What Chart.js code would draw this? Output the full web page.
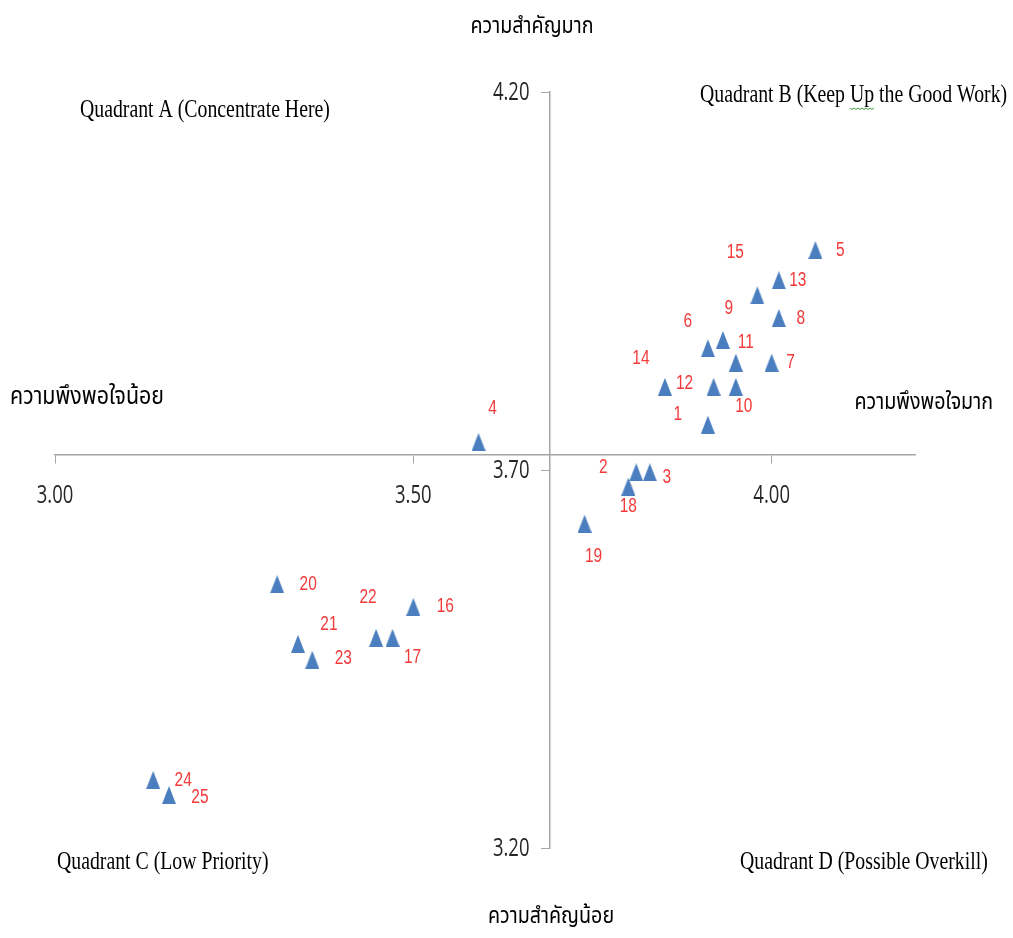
<!DOCTYPE html>
<html lang="th">
  <head>
    <meta charset="UTF-8" />
    <title>Importance-Performance Analysis</title>
    <script src="https://cdn.jsdelivr.net/npm/chart.js"></script>
    <style>
      body { margin: 0; background: #fff; }
    </style>
  </head>
  <body>
    <canvas id="ipaChart" width="1013" height="938"></canvas>
    <script>
      // item numbers, satisfaction (x) and importance (y)
      const pointIds = ["1", "2", "3", "4", "5", "6", "7", "8", "9", "10", "11", "12", "13",
        "14", "15", "16", "17", "18", "19", "20", "21", "22", "23", "24", "25"];
      const satisfaction = [3.911, 3.811, 3.830, 3.591, 4.061, 3.911, 4.000, 4.010, 3.932, 3.950,
        3.950, 3.919, 4.010, 3.851, 3.980, 3.500, 3.471, 3.800, 3.739, 3.310, 3.339, 3.448, 3.359,
        3.137, 3.159];
      const importance = [3.760, 3.697, 3.697, 3.737, 3.991, 3.861, 3.842, 3.901, 3.872, 3.810,
        3.842, 3.810, 3.951, 3.810, 3.931, 3.519, 3.478, 3.678, 3.629, 3.549, 3.470, 3.478, 3.449,
        3.290, 3.270];

      const xTicks = [3.0, 3.5, 4.0];
      const yTicks = [3.2, 3.7, 4.2];
      const crossX = 3.69;
      const crossY = 3.72;

      // where each number label sits relative to its marker (px)
      const labelOffsets = [[-30, -10], [-33, -5], [17, 5], [14, -34], [25, 0], [-20, -27],
        [19, 0], [22, 0], [6, -32], [8, 19], [10, -20], [-29, -4], [19, 0], [-24, -29],
        [-22, -43], [32, -1], [20, 19], [0, 20], [9, 33], [31, 0], [31, -20], [-8, -41],
        [31, -2], [30, 0], [31, 2]];

      const thaiFont = '"Noto Sans Thai", Loma, Garuda, "DejaVu Sans", sans-serif';
      const serifFont = '"Liberation Serif", "Times New Roman", serif';
      const numFont = '"Open Sans", Calibri, sans-serif';

      function makeTriangle() {
        const c = document.createElement("canvas");
        c.width = 14;
        c.height = 18;
        const g = c.getContext("2d");
        g.fillStyle = "#4a7ebf";
        g.beginPath();
        g.moveTo(7, 0);
        g.lineTo(14, 18);
        g.lineTo(0, 18);
        g.closePath();
        g.fill();
        return c;
      }

      // the source picture is stretched vertically, so text is drawn taller than wide
      function tallText(ctx, text, x, y, align, sy) {
        ctx.save();
        ctx.translate(x, y);
        ctx.scale(1, sy);
        ctx.textAlign = align;
        ctx.textBaseline = "middle";
        ctx.fillText(text, 0, 0);
        ctx.restore();
      }

      const textPlugin = {
        id: "textPlugin",
        afterDatasetsDraw(chart) {
          const ctx = chart.ctx;
          const meta = chart.getDatasetMeta(0);
          const xs = chart.scales.x;
          const ys = chart.scales.y;
          ctx.save();

          // tick labels
          ctx.font = "18.5px " + numFont;
          ctx.fillStyle = "#262626";
          const xBase = ys.getPixelForValue(crossY);
          xTicks.forEach((v) => tallText(ctx, v.toFixed(2), xs.getPixelForValue(v), xBase + 41, "center", 1.35));
          const yBase = xs.getPixelForValue(crossX);
          yTicks.forEach((v) => tallText(ctx, v.toFixed(2), yBase - 20, ys.getPixelForValue(v) + 1, "right", 1.35));

          // point numbers
          ctx.font = '15.5px "Liberation Sans", Arial, sans-serif';
          ctx.fillStyle = "#f23a3a";
          meta.data.forEach((pt, i) => {
            const [dx, dy] = labelOffsets[i];
            tallText(ctx, pointIds[i], pt.x + dx, pt.y + dy, "center", 1.35);
          });

          // quadrant names
          ctx.fillStyle = "#000";
          ctx.font = "19.8px " + serifFont;
          tallText(ctx, "Quadrant A (Concentrate Here)", 80, 110, "left", 1.3);
          tallText(ctx, "Quadrant B (Keep Up the Good Work)", 700, 95, "left", 1.3);
          tallText(ctx, "Quadrant C (Low Priority)", 57, 862, "left", 1.3);
          tallText(ctx, "Quadrant D (Possible Overkill)", 740, 862, "left", 1.3);

          // spell-check squiggle under "Up"
          const upStart = 700 + ctx.measureText("Quadrant B (Keep ").width;
          const upEnd = upStart + ctx.measureText("Up").width;
          ctx.strokeStyle = "#3c9a3c";
          ctx.lineWidth = 1;
          ctx.beginPath();
          for (let x = upStart, k = 0; x <= upEnd; x += 2, k++) {
            const y = 108 + (k % 2 ? 1.5 : 0);
            if (k === 0) ctx.moveTo(x, y);
            else ctx.lineTo(x, y);
          }
          ctx.stroke();

          // axis captions
          ctx.font = "19.7px " + thaiFont;
          tallText(ctx, "ความสำคัญมาก", 532, 28, "center", 1.2);
          tallText(ctx, "ความสำคัญน้อย", 551, 918, "center", 1.2);
          tallText(ctx, "ความพึงพอใจมาก", 993, 404, "right", 1.2);
          ctx.font = "21.4px " + thaiFont;
          tallText(ctx, "ความพึงพอใจน้อย", 10, 399, "left", 1.2);
          ctx.restore();
        },
      };

      const axisColor = "#a6a6a6";

      new Chart(document.getElementById("ipaChart").getContext("2d"), {
        type: "scatter",
        data: {
          datasets: [
            {
              label: "items",
              data: satisfaction.map((x, i) => ({ x: x, y: importance[i] })),
              pointStyle: makeTriangle(),
              pointRadius: 8,
              pointHoverRadius: 8,
            },
          ],
        },
        options: {
          responsive: false,
          animation: false,
          layout: { padding: { left: 55, right: 98, top: 92, bottom: 90 } },
          plugins: { legend: { display: false }, tooltip: { enabled: false } },
          scales: {
            x: {
              type: "linear",
              min: 3.0,
              max: 4.2,
              position: { y: crossY },
              afterBuildTicks: (scale) => {
                scale.ticks = xTicks.map((v) => ({ value: v }));
              },
              ticks: { display: false },
              grid: { drawOnChartArea: false, drawTicks: true, tickLength: 8, color: axisColor },
              border: { color: axisColor, width: 1.5 },
            },
            y: {
              type: "linear",
              min: 3.2,
              max: 4.2,
              position: { x: crossX },
              afterBuildTicks: (scale) => {
                scale.ticks = yTicks.map((v) => ({ value: v }));
              },
              ticks: { display: false },
              grid: { drawOnChartArea: false, drawTicks: true, tickLength: 8, color: axisColor },
              border: { color: axisColor, width: 1.5 },
            },
          },
        },
        plugins: [textPlugin],
      });
    </script>
  </body>
</html>
